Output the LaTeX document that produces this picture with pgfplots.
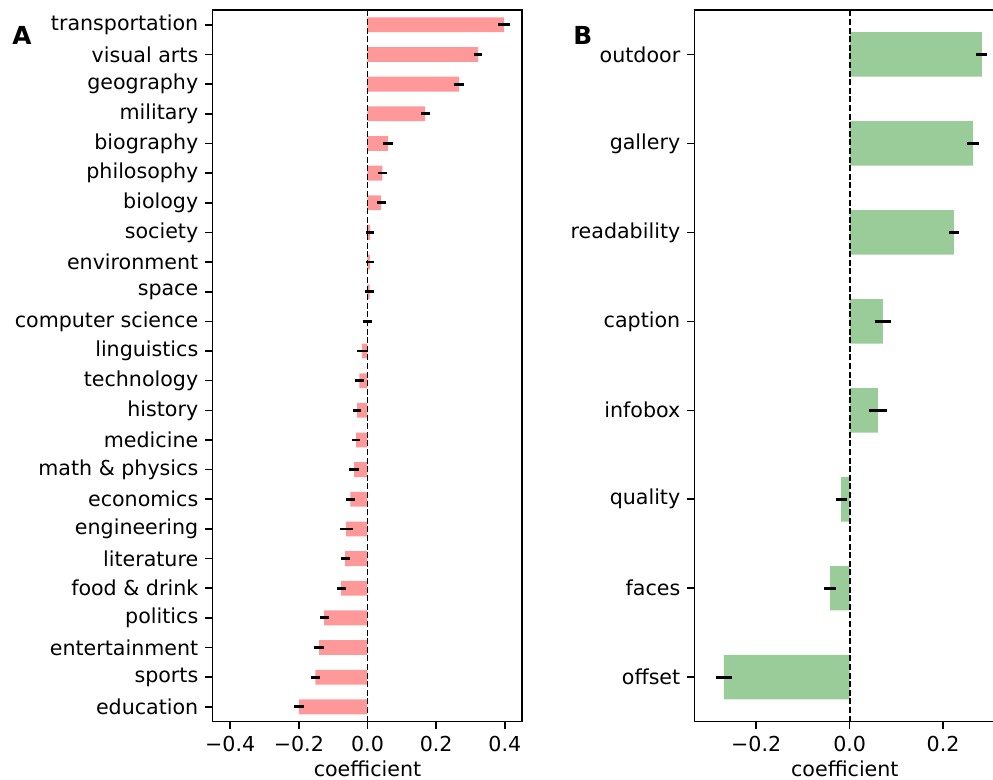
\documentclass[border=0pt]{standalone}
\usepackage{fontspec}
\setmainfont{DejaVu Sans}
\usepackage{pgfplots}
\usepackage{pgfplotstable}
\pgfplotsset{compat=1.18}
\definecolor{barred}{RGB}{255,153,153}
\definecolor{bargreen}{RGB}{153,204,153}

\pgfplotstableread{
i v e
0 -0.200 0.015
1 -0.152 0.014
2 -0.141 0.014
3 -0.126 0.013
4 -0.077 0.013
5 -0.065 0.013
6 -0.062 0.019
7 -0.050 0.014
8 -0.039 0.014
9 -0.033 0.012
10 -0.030 0.012
11 -0.024 0.013
12 -0.0155 0.014
13 0.000 0.012
14 0.006 0.013
15 0.007 0.012
16 0.008 0.012
17 0.040 0.0136
18 0.043 0.0126
19 0.060 0.0136
20 0.168 0.013
21 0.267 0.0155
22 0.322 0.013
23 0.398 0.018
}\topics

\pgfplotstableread{
i v e
0 -0.269 0.0164
1 -0.042 0.012
2 -0.018 0.0118
3 0.0606 0.0185
4 0.0713 0.0164
5 0.223 0.0114
6 0.264 0.0135
7 0.283 0.0118
}\features

\begin{document}
\fontsize{10.3}{12.4}\selectfont
\begin{tikzpicture}
\useasboundingbox (0,0) rectangle (496.5pt,390pt);
\pgfplotsset{
  every axis/.append style={
    scale only axis,
    font=\fontsize{10.3}{12.4}\selectfont,
    axis line style={line width=0.8pt, black},
    every tick/.style={line width=0.8pt, black},
    tick align=outside,
    major tick length=3.6pt,
    tick pos=left,
    xlabel={coefficient},
    xlabel style={yshift=2.5pt},
    /pgf/number format/assume math mode=true,
  },
}
\begin{axis}[
  at={(106.35pt,29.15pt)}, anchor=south west,
  width=154.8pt, height=355.85pt,
  xmin=-0.451, xmax=0.451,
  ymin=-0.5, ymax=23.5,
  xtick={-0.4,-0.2,0,0.2,0.4},
  xticklabels={−0.4,−0.2,0.0,0.2,0.4},
  ytick={0,...,23},
  yticklabels={education,sports,entertainment,politics,food \& drink,literature,engineering,economics,math \& physics,medicine,history,technology,linguistics,computer science,space,environment,society,biology,philosophy,biography,military,geography,visual arts,transportation},
]
\addplot[xbar, bar width=0.5, fill=barred, draw=none] table[x=v, y=i] {\topics};
\addplot[black, line width=0.9pt, dash pattern=on 3pt off 1.3pt] coordinates {(0,-0.5) (0,23.5)};
\addplot[draw=none, mark=none,
  error bars/.cd, x dir=both, x explicit, error mark=none,
  error bar style={line width=1.4pt, black, solid}]
  table[x=v, y=i, x error=e] {\topics};
\end{axis}

\begin{axis}[
  at={(347.35pt,29.15pt)}, anchor=south west,
  width=150.15pt, height=355.85pt,
  xmin=-0.3316, xmax=0.311,
  ymin=-0.5, ymax=7.5,
  xtick={-0.2,0,0.2},
  xticklabels={−0.2,0.0,0.2},
  ytick={0,...,7},
  yticklabels={offset,faces,quality,infobox,caption,readability,gallery,outdoor},
]
\addplot[xbar, bar width=0.5, fill=bargreen, draw=none] table[x=v, y=i] {\features};
\addplot[black, line width=0.9pt, dash pattern=on 3pt off 1.3pt] coordinates {(0,-0.5) (0,7.5)};
\addplot[draw=none, mark=none,
  error bars/.cd, x dir=both, x explicit, error mark=none,
  error bar style={line width=1.4pt, black, solid}]
  table[x=v, y=i, x error=e] {\features};
\end{axis}

\node[anchor=base west, inner sep=0pt, font=\fontsize{12.4}{14}\selectfont\bfseries] at (6pt,367.5pt) {A};
\node[anchor=base west, inner sep=0pt, font=\fontsize{12.4}{14}\selectfont\bfseries] at (286.5pt,367.5pt) {B};
\end{tikzpicture}
\end{document}
